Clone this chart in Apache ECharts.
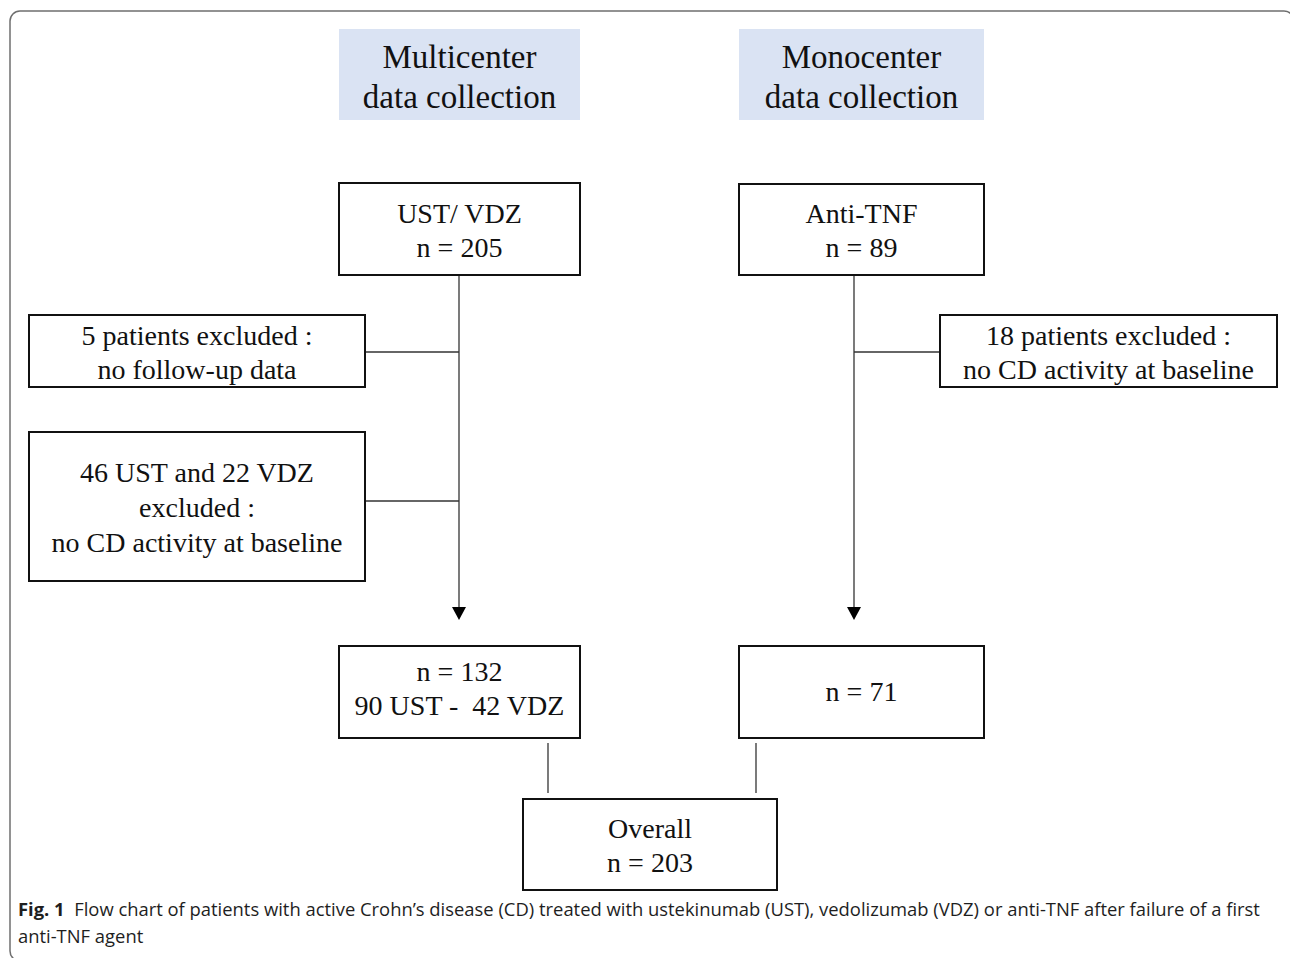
<!DOCTYPE html>
<html>
<head>
<meta charset="utf-8">
<script src="https://cdn.jsdelivr.net/npm/echarts@6/dist/echarts.min.js"></script>
<style>
html,body{margin:0;padding:0;background:#fff;}
#chart{width:1290px;height:958px;}
</style>
</head>
<body>
<div id="chart"></div>
<script>
// ---- Data (texts & counts) ----
const headers = ['Multicenter\ndata collection', 'Monocenter\ndata collection'];
const startCounts = { ustvdz: 205, antitnf: 89 };
const excluded = { followUp: 5, ust: 46, vdz: 22, antitnf: 18 };
const finalCounts = { multi: 132, ust: 90, vdz: 42, mono: 71, overall: 203 };
const nodeTexts = {
  h1: headers[0],
  h2: headers[1],
  start1: 'UST/ VDZ\nn = ' + startCounts.ustvdz,
  start2: 'Anti-TNF\nn = ' + startCounts.antitnf,
  ex1: excluded.followUp + ' patients excluded :\nno follow-up data',
  ex2: excluded.ust + ' UST and ' + excluded.vdz + ' VDZ\nexcluded :\nno CD activity at baseline',
  ex3: excluded.antitnf + ' patients excluded :\nno CD activity at baseline',
  fin1: 'n = ' + finalCounts.multi + '\n' + finalCounts.ust + ' UST -  ' + finalCounts.vdz + ' VDZ',
  fin2: 'n = ' + finalCounts.mono,
  overall: 'Overall\nn = ' + finalCounts.overall
};
const captionBold = 'Fig. 1';
const captionText = '  Flow chart of patients with active Crohn\u2019s disease (CD) treated with ustekinumab (UST), vedolizumab (VDZ) or anti-TNF after failure of a first';
const captionText2 = 'anti-TNF agent';

// ---- Layout (page-space coordinates, mapped through hidden axes) ----
// [x1, y1, x2, y2, kind, text vertical offset]
const layout = {
  h1: [339, 29, 580, 120, 'header', 2],
  h2: [739, 29, 984, 120, 'header', 2],
  start1: [339, 183, 580, 275, 'box', 1],
  start2: [739, 184, 984, 275, 'box', 1],
  ex1: [29, 315, 365, 387, 'box', 1],
  ex2: [29, 432, 365, 581, 'box', 1],
  ex3: [940, 315, 1277, 387, 'box', 1],
  fin1: [339, 646, 580, 738, 'box', -4],
  fin2: [739, 646, 984, 738, 'box', -1],
  overall: [523, 799, 777, 890, 'box', 1]
};
const connectors = [
  [459, 275, 459, 607, 'arrow'],
  [854, 275, 854, 607, 'arrow'],
  [365, 352, 459, 352, 'line'],
  [365, 501, 459, 501, 'line'],
  [854, 352, 940, 352, 'line'],
  [548, 743, 548, 793, 'line'],
  [756, 743, 756, 793, 'line']
];

const boxData = Object.keys(layout).map(k => ({ value: layout[k].slice(0, 4), name: k }));

const chart = echarts.init(document.getElementById('chart'), null, { renderer: 'svg' });

const serif = 'Liberation Serif, Times New Roman, serif';

chart.setOption({
  animation: false,
  grid: { left: 0, right: 0, top: 0, bottom: 0 },
  xAxis: { type: 'value', min: 0, max: 1290, show: false },
  yAxis: { type: 'value', min: 0, max: 958, inverse: true, show: false },
  series: [
    {
      type: 'custom',
      coordinateSystem: 'cartesian2d',
      data: [[10, 11, 1294, 961]],
      silent: true,
      clip: false,
      z: 1,
      renderItem: function (params, api) {
        const p1 = api.coord([api.value(0), api.value(1)]);
        const p2 = api.coord([api.value(2), api.value(3)]);
        return {
          type: 'rect',
          shape: { x: p1[0], y: p1[1], width: p2[0] - p1[0], height: p2[1] - p1[1], r: 10 },
          style: { fill: 'none', stroke: '#6f6f6f', lineWidth: 1.5 }
        };
      }
    },
    {
      type: 'custom',
      coordinateSystem: 'cartesian2d',
      data: connectors,
      silent: true,
      z: 2,
      renderItem: function (params, api) {
        const c = connectors[params.dataIndex];
        const p1 = api.coord([api.value(0), api.value(1)]);
        const p2 = api.coord([api.value(2), api.value(3)]);
        const children = [{
          type: 'line',
          shape: { x1: p1[0], y1: p1[1], x2: p2[0], y2: p2[1] },
          style: { stroke: '#333', lineWidth: 1.3 }
        }];
        if (c[4] === 'arrow') {
          children.push({
            type: 'polygon',
            shape: { points: [[p2[0] - 7, p2[1]], [p2[0] + 7, p2[1]], [p2[0], p2[1] + 13]] },
            style: { fill: '#000' }
          });
        }
        return { type: 'group', children: children };
      }
    },
    {
      type: 'custom',
      coordinateSystem: 'cartesian2d',
      data: boxData,
      silent: true,
      z: 3,
      renderItem: function (params, api) {
        const key = boxData[params.dataIndex].name;
        const kind = layout[key][4];
        const dy = layout[key][5];
        const p1 = api.coord([api.value(0), api.value(1)]);
        const p2 = api.coord([api.value(2), api.value(3)]);
        const isHeader = kind === 'header';
        const lines = nodeTexts[key].split('\n').length;
        return {
          type: 'group',
          children: [
            {
              type: 'rect',
              shape: { x: p1[0], y: p1[1], width: p2[0] - p1[0], height: p2[1] - p1[1] },
              style: isHeader
                ? { fill: '#dae3f3', stroke: 'none' }
                : { fill: '#fff', stroke: '#111', lineWidth: 2 }
            },
            {
              type: 'text',
              style: {
                text: nodeTexts[key],
                x: (p1[0] + p2[0]) / 2,
                y: (p1[1] + p2[1]) / 2 + dy,
                align: 'center',
                verticalAlign: 'middle',
                fontFamily: serif,
                fontSize: isHeader ? 33 : 28,
                lineHeight: isHeader ? 40 : (lines === 3 ? 35 : 34),
                fill: '#111'
              }
            }
          ]
        };
      }
    }
  ],
  graphic: [
    {
      type: 'text',
      left: 18,
      top: 899,
      style: {
        text: '{b|' + captionBold + '}{n|' + captionText + '}\n{n|' + captionText2 + '}',
        rich: {
          b: { fontFamily: 'Open Sans, sans-serif', fontWeight: 'bold', fontSize: 18.4, fill: '#1e1e1e', lineHeight: 27 },
          n: { fontFamily: 'Open Sans, sans-serif', fontSize: 18.4, fill: '#1e1e1e', lineHeight: 27 }
        }
      }
    }
  ]
});
</script>
</body>
</html>
